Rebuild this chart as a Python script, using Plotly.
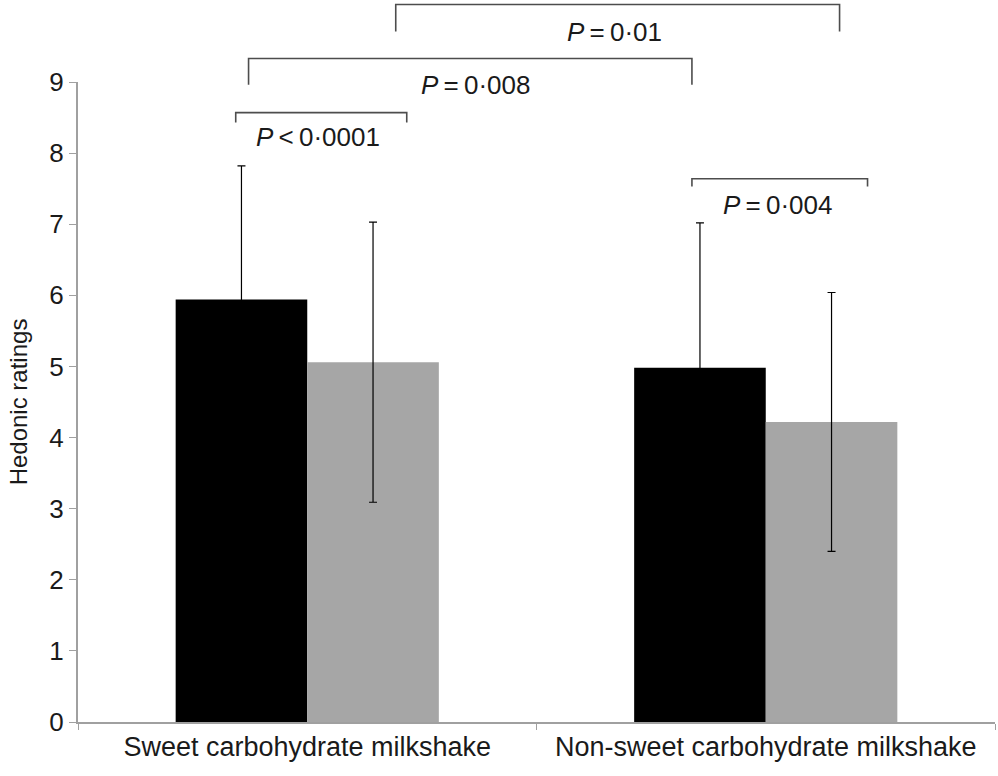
import plotly.graph_objects as go

categories = ["Sweet carbohydrate milkshake", "Non-sweet carbohydrate milkshake"]
black_means = [5.94, 4.98]
black_sd = [1.88, 2.04]
gray_means = [5.06, 4.22]
gray_sd = [1.97, 1.82]
y_ticks = list(range(0, 10))

# brackets in data units: x in category index units, y in rating units
br_x0 = [0.193, -0.128, -0.156, 0.839]
br_x1 = [1.161, 0.839, 0.217, 1.222]
br_top = [10.09, 9.33, 8.57, 7.64]
br_leg = [9.71, 8.96, 8.43, 7.53]
lab_x = [0.670, 0.367, 0.023, 1.026]
lab_y = [9.71, 8.96, 8.22, 7.27]
labels = ["<i>P</i>\u2009=\u20090·01", "<i>P</i>\u2009=\u20090·008",
          "<i>P</i>\u2009<\u20090·0001", "<i>P</i>\u2009=\u20090·004"]

X_MIN, X_MAX = -0.5, 1.5
Y_MIN, Y_MAX = 0, 9

def px(x):
    return (x - X_MIN) / (X_MAX - X_MIN)

def py(y):
    return (y - Y_MIN) / (Y_MAX - Y_MIN)

FONT = "Liberation Sans, Arial, sans-serif"
TXT = "#1a1a1a"

fig = go.Figure()
fig.add_trace(go.Bar(
    x=categories, y=black_means, name="A", marker_color="#000000",
    marker_line_width=0,
    error_y=dict(type="data", array=black_sd, color="#000000", thickness=1.2, width=4),
))
fig.add_trace(go.Bar(
    x=categories, y=gray_means, name="B", marker_color="#a6a6a6",
    marker_line_width=0,
    error_y=dict(type="data", array=gray_sd, color="#000000", thickness=1.2, width=4),
))

shapes = []
for x0, x1, t, l in zip(br_x0, br_x1, br_top, br_leg):
    path = (f"M {px(x0)} {py(l)} L {px(x0)} {py(t)} "
            f"L {px(x1)} {py(t)} L {px(x1)} {py(l)}")
    shapes.append(dict(type="path", xref="paper", yref="paper", path=path,
                       line=dict(color="#4d4d4d", width=1.6)))

annotations = []
for x, y, t in zip(lab_x, lab_y, labels):
    annotations.append(dict(x=px(x), y=py(y), xref="paper", yref="paper",
                            text=t, showarrow=False, xanchor="center",
                            yanchor="middle",
                            font=dict(family=FONT, size=26, color=TXT)))

fig.update_layout(
    width=998, height=776,
    margin=dict(l=78, r=3, t=82, b=54),
    paper_bgcolor="white", plot_bgcolor="white",
    barmode="group", bargap=0.426, bargroupgap=0,
    showlegend=False,
    shapes=shapes, annotations=annotations,
    font=dict(family=FONT, color=TXT),
)
fig.update_xaxes(
    type="category", range=[X_MIN, X_MAX], tickson="boundaries",
    ticks="outside", ticklen=6, tickcolor="#a0a0a0", tickwidth=1,
    showline=True, linecolor="#a0a0a0", linewidth=2,
    showgrid=False, automargin=False,
    tickfont=dict(size=27, family=FONT, color=TXT),
)
fig.update_yaxes(
    range=[Y_MIN, Y_MAX], tickvals=y_ticks,
    ticks="outside", ticklen=7, tickcolor="#a0a0a0", tickwidth=1,
    showline=True, linecolor="#a0a0a0", linewidth=2,
    showgrid=False, zeroline=False, automargin=False,
    tickfont=dict(size=26, family=FONT, color=TXT),
    title=dict(text="Hedonic ratings", font=dict(size=24, family=FONT, color=TXT),
               standoff=15),
)

fig.write_html("out.html", config={"displayModeBar": False},
               post_script="document.body.style.margin='0';document.body.style.padding='0';")
